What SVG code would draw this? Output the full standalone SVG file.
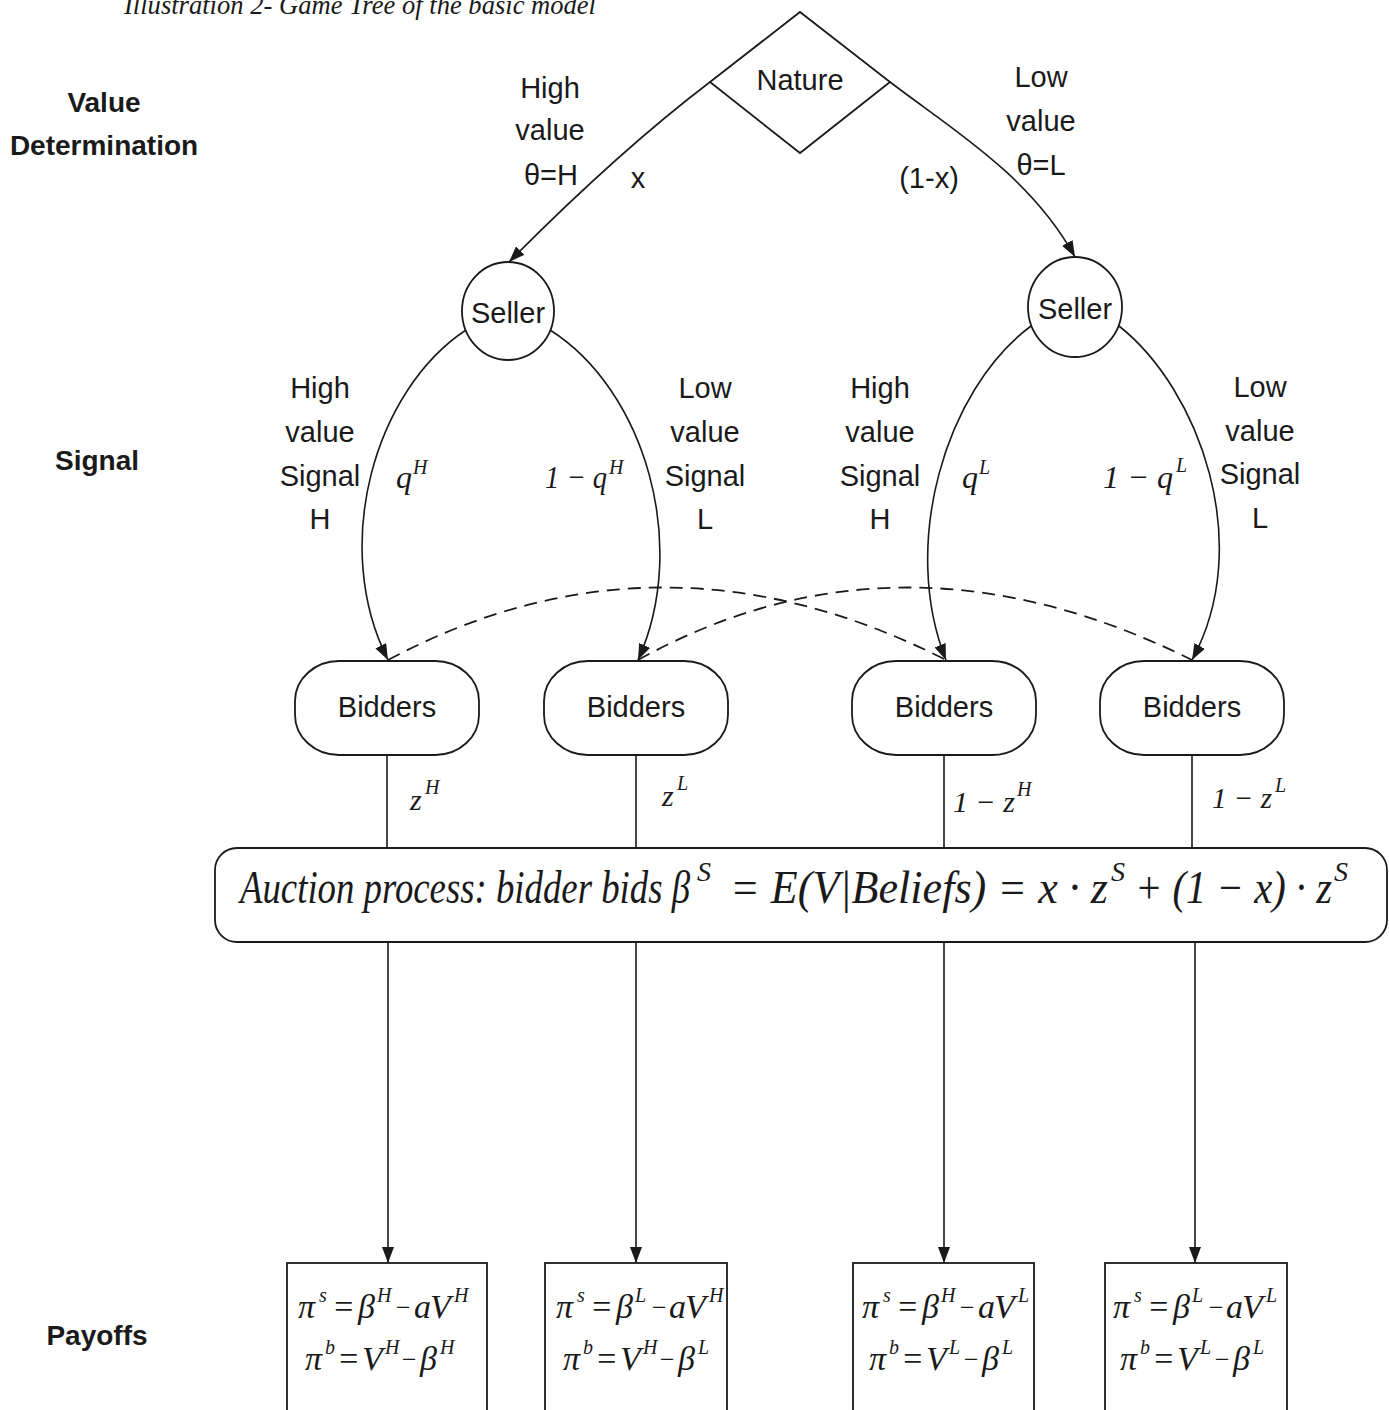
<svg xmlns="http://www.w3.org/2000/svg" width="1389" height="1410" viewBox="0 0 1389 1410">
<style>
.lbl{font-family:"Liberation Sans",Arial,sans-serif;font-size:29px;fill:#1a1a1a;text-anchor:middle}
.hdr{font-family:"Liberation Sans",Arial,sans-serif;font-size:28px;font-weight:bold;fill:#1a1a1a;text-anchor:middle}
.m{font-family:"Liberation Serif","Times New Roman",serif;font-style:italic;fill:#1a1a1a}
.p{font-family:"Liberation Serif","Times New Roman",serif;font-style:italic;fill:#1a1a1a;font-size:34px}
.p .s{font-size:20px}
.p .o{font-size:26px}
.edge{fill:none;stroke:#1a1a1a;stroke-width:1.6}
.dash{fill:none;stroke:#1a1a1a;stroke-width:1.8;stroke-dasharray:13 8}
.node{fill:#fff;stroke:#1a1a1a;stroke-width:1.8}
</style>
<defs>
<marker id="arr" viewBox="0 0 16 12" refX="16" refY="6" markerWidth="16" markerHeight="12" markerUnits="userSpaceOnUse" orient="auto">
<path d="M0,0 L16,6 L0,12 z" fill="#1a1a1a"/>
</marker>
</defs>
<rect width="1389" height="1410" fill="#fff"/>

<text x="124" y="14" class="m" font-size="27" textLength="472" lengthAdjust="spacingAndGlyphs">Illustration 2- Game Tree of the basic model</text>

<g id="stage-labels">
<text class="hdr" x="104" y="112">Value</text>
<text class="hdr" x="104" y="155">Determination</text>
<text class="hdr" x="97" y="470">Signal</text>
<text class="hdr" x="97" y="1345">Payoffs</text>
</g>

<g id="connectors">
<path class="edge" d="M710,82 Q618,152 509,262" marker-end="url(#arr)"/>
<path class="edge" d="M890,82 C950,128 1030,175 1075,257" marker-end="url(#arr)"/>
<path class="edge" d="M466,330 C375,390 330,545 388,660" marker-end="url(#arr)"/>
<path class="edge" d="M550,330 C645,390 690,545 638,660" marker-end="url(#arr)"/>
<path class="edge" d="M1031,326 C945,390 900,545 946,660" marker-end="url(#arr)"/>
<path class="edge" d="M1119,326 C1200,390 1255,545 1192,660" marker-end="url(#arr)"/>
<path class="dash" d="M388,660 Q660,515 946,660"/>
<path class="dash" d="M638,660 Q900,515 1192,660"/>
<path class="edge" d="M387,755 V848 M636,755 V848 M944,755 V848 M1192,755 V848"/>
<path class="edge" d="M388,942 V1263" marker-end="url(#arr)"/>
<path class="edge" d="M636,942 V1263" marker-end="url(#arr)"/>
<path class="edge" d="M944,942 V1263" marker-end="url(#arr)"/>
<path class="edge" d="M1195,942 V1263" marker-end="url(#arr)"/>
</g>

<g id="edge-labels">
<text class="lbl" x="550" y="98">High</text>
<text class="lbl" x="550" y="140">value</text>
<text class="lbl" x="551" y="185">θ=H</text>
<text class="lbl" x="638" y="188">x</text>
<text class="lbl" x="929" y="188">(1-x)</text>
<text class="lbl" x="1041" y="87">Low</text>
<text class="lbl" x="1041" y="131">value</text>
<text class="lbl" x="1041" y="175">θ=L</text>

<text class="lbl" x="320" y="398">High</text>
<text class="lbl" x="320" y="442">value</text>
<text class="lbl" x="320" y="486">Signal</text>
<text class="lbl" x="320" y="529">H</text>
<text class="lbl" x="705" y="398">Low</text>
<text class="lbl" x="705" y="442">value</text>
<text class="lbl" x="705" y="486">Signal</text>
<text class="lbl" x="705" y="529">L</text>

<text class="lbl" x="880" y="398">High</text>
<text class="lbl" x="880" y="442">value</text>
<text class="lbl" x="880" y="486">Signal</text>
<text class="lbl" x="880" y="529">H</text>
<text class="lbl" x="1260" y="397">Low</text>
<text class="lbl" x="1260" y="441">value</text>
<text class="lbl" x="1260" y="484">Signal</text>
<text class="lbl" x="1260" y="528">L</text>

<text class="m" x="396" y="488" font-size="32">q</text>
<text class="m" x="413" y="474" font-size="20">H</text>
<text class="m" x="545" y="488" font-size="32" textLength="62" lengthAdjust="spacingAndGlyphs">1 − q</text>
<text class="m" x="609" y="474" font-size="20">H</text>
<text class="m" x="962" y="488" font-size="32">q</text>
<text class="m" x="979" y="474" font-size="20">L</text>
<text class="m" x="1103" y="488" font-size="32" textLength="70" lengthAdjust="spacingAndGlyphs">1 − q</text>
<text class="m" x="1176" y="472" font-size="20">L</text>

<text class="m" x="410" y="810" font-size="30">z</text>
<text class="m" x="425" y="794" font-size="20">H</text>
<text class="m" x="662" y="806" font-size="30">z</text>
<text class="m" x="677" y="790" font-size="20">L</text>
<text class="m" x="953" y="812" font-size="30" textLength="62" lengthAdjust="spacingAndGlyphs">1 − z</text>
<text class="m" x="1017" y="796" font-size="20">H</text>
<text class="m" x="1212" y="808" font-size="30" textLength="60" lengthAdjust="spacingAndGlyphs">1 − z</text>
<text class="m" x="1275" y="792" font-size="20">L</text>
</g>

<g id="nature">
<polygon class="node" points="800,12 890,82 800,153 710,82"/>
<text class="lbl" x="800" y="90">Nature</text>
</g>

<g id="seller-high">
<ellipse class="node" cx="508" cy="311" rx="46" ry="49"/>
<text class="lbl" x="508" y="323">Seller</text>
</g>
<g id="seller-low">
<ellipse class="node" cx="1075" cy="307" rx="47" ry="50"/>
<text class="lbl" x="1075" y="319">Seller</text>
</g>

<g id="bidders-1">
<rect class="node" x="295" y="661" width="184" height="94" rx="44" ry="40"/>
<text class="lbl" x="387" y="717">Bidders</text>
</g>
<g id="bidders-2">
<rect class="node" x="544" y="661" width="184" height="94" rx="44" ry="40"/>
<text class="lbl" x="636" y="717">Bidders</text>
</g>
<g id="bidders-3">
<rect class="node" x="852" y="661" width="184" height="94" rx="44" ry="40"/>
<text class="lbl" x="944" y="717">Bidders</text>
</g>
<g id="bidders-4">
<rect class="node" x="1100" y="661" width="184" height="94" rx="44" ry="40"/>
<text class="lbl" x="1192" y="717">Bidders</text>
</g>

<g id="auction">
<rect class="node" x="215" y="848" width="1172" height="94" rx="22" ry="22"/>
<text class="m" x="240" y="903" font-size="46" textLength="450" lengthAdjust="spacingAndGlyphs">Auction process: bidder bids β</text>
<text class="m" x="697" y="881" font-size="28">S</text>
<text class="m" x="730" y="903" font-size="46" textLength="378" lengthAdjust="spacingAndGlyphs">= E(V|Beliefs) = x · z</text>
<text class="m" x="1111" y="881" font-size="28">S</text>
<text class="m" x="1135" y="903" font-size="46" textLength="197" lengthAdjust="spacingAndGlyphs">+ (1 − x) · z</text>
<text class="m" x="1334" y="881" font-size="28">S</text>
</g>

<g id="payoff-1">
<rect class="node" x="287" y="1263" width="200" height="170"/>
<text class="p"><tspan x="298" y="1318">π</tspan><tspan class="s" x="319" y="1302">s</tspan><tspan x="332" y="1318">=</tspan><tspan x="358" y="1318">β</tspan><tspan class="s" x="377" y="1302">H</tspan><tspan class="o" x="394" y="1316">−</tspan><tspan x="414" y="1318">a</tspan><tspan x="430" y="1318">V</tspan><tspan class="s" x="454" y="1302">H</tspan></text>
<text class="p"><tspan x="305" y="1370">π</tspan><tspan class="s" x="325" y="1354">b</tspan><tspan x="337" y="1370">=</tspan><tspan x="362" y="1370">V</tspan><tspan class="s" x="385" y="1354">H</tspan><tspan class="o" x="400" y="1368">−</tspan><tspan x="420" y="1370">β</tspan><tspan class="s" x="440" y="1354">H</tspan></text>
</g>
<g id="payoff-2">
<rect class="node" x="545" y="1263" width="182" height="170"/>
<text class="p"><tspan x="556" y="1318">π</tspan><tspan class="s" x="577" y="1302">s</tspan><tspan x="590" y="1318">=</tspan><tspan x="616" y="1318">β</tspan><tspan class="s" x="635" y="1302">L</tspan><tspan class="o" x="650" y="1316">−</tspan><tspan x="669" y="1318">a</tspan><tspan x="685" y="1318">V</tspan><tspan class="s" x="709" y="1302">H</tspan></text>
<text class="p"><tspan x="563" y="1370">π</tspan><tspan class="s" x="583" y="1354">b</tspan><tspan x="595" y="1370">=</tspan><tspan x="620" y="1370">V</tspan><tspan class="s" x="643" y="1354">H</tspan><tspan class="o" x="658" y="1368">−</tspan><tspan x="678" y="1370">β</tspan><tspan class="s" x="698" y="1354">L</tspan></text>
</g>
<g id="payoff-3">
<rect class="node" x="853" y="1263" width="181" height="170"/>
<text class="p"><tspan x="862" y="1318">π</tspan><tspan class="s" x="883" y="1302">s</tspan><tspan x="896" y="1318">=</tspan><tspan x="922" y="1318">β</tspan><tspan class="s" x="941" y="1302">H</tspan><tspan class="o" x="958" y="1316">−</tspan><tspan x="978" y="1318">a</tspan><tspan x="994" y="1318">V</tspan><tspan class="s" x="1018" y="1302">L</tspan></text>
<text class="p"><tspan x="869" y="1370">π</tspan><tspan class="s" x="889" y="1354">b</tspan><tspan x="901" y="1370">=</tspan><tspan x="926" y="1370">V</tspan><tspan class="s" x="949" y="1354">L</tspan><tspan class="o" x="962" y="1368">−</tspan><tspan x="982" y="1370">β</tspan><tspan class="s" x="1002" y="1354">L</tspan></text>
</g>
<g id="payoff-4">
<rect class="node" x="1105" y="1263" width="182" height="170"/>
<text class="p"><tspan x="1113" y="1318">π</tspan><tspan class="s" x="1134" y="1302">s</tspan><tspan x="1147" y="1318">=</tspan><tspan x="1173" y="1318">β</tspan><tspan class="s" x="1192" y="1302">L</tspan><tspan class="o" x="1207" y="1316">−</tspan><tspan x="1226" y="1318">a</tspan><tspan x="1242" y="1318">V</tspan><tspan class="s" x="1266" y="1302">L</tspan></text>
<text class="p"><tspan x="1120" y="1370">π</tspan><tspan class="s" x="1140" y="1354">b</tspan><tspan x="1152" y="1370">=</tspan><tspan x="1177" y="1370">V</tspan><tspan class="s" x="1200" y="1354">L</tspan><tspan class="o" x="1213" y="1368">−</tspan><tspan x="1233" y="1370">β</tspan><tspan class="s" x="1253" y="1354">L</tspan></text>
</g>
</svg>
